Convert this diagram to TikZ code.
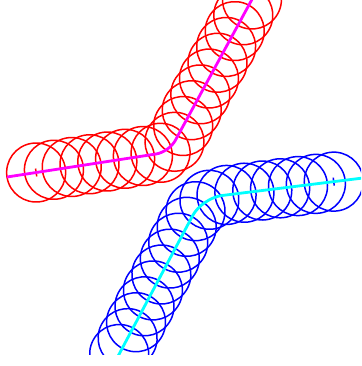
\documentclass[tikz,border=0pt]{standalone}
\usetikzlibrary{decorations.markings}
\definecolor{coilred}{RGB}{255,0,0}
\definecolor{coilblue}{RGB}{0,0,255}
\definecolor{axismag}{RGB}{255,0,255}
\definecolor{axiscyan}{RGB}{0,255,255}

\begin{document}
\begin{tikzpicture}[
    x=1pt, y=-1pt,
    coilline/.style={line width=1.5pt},
    mline/.style={axismag, line width=2.8pt, rounded corners=13pt},
    cline/.style={axiscyan, line width=2.8pt, rounded corners=20pt},
    redcoil/.style={preaction={decorate}, decoration={markings,
        mark=at position \coilr pt with {\draw[coilred, coilline] (0,-4pt) -- (0,4pt);},
        mark=between positions \coilr pt and 1 step \coilstep pt with
            {\draw[coilred, coilline] (0,0) circle (\coilr pt);}}},
    bluecoil/.style={preaction={decorate}, decoration={markings,
        mark=at position \coilr pt with {\draw[coilblue, coilline] (0,-4pt) -- (0,4pt);},
        mark=between positions \coilr pt and 1 step \coilstep pt with
            {\draw[coilblue, coilline] (0,0) circle (\coilr pt);}}},
]

% Sizes (pixels of the frame)
\pgfmathsetmacro{\coilr}{29.5}
\pgfmathsetmacro{\coilstep}{18}

\useasboundingbox (0,0) rectangle (361,366);
\clip (0,0) rectangle (361,354);

% ===== AXIS POINTS =====
\coordinate (rA) at (7,177);
\coordinate (rB) at (169,152);
\coordinate (rC) at (256,-8);
\coordinate (bA) at (363,178);
\coordinate (bB) at (202,198);
\coordinate (bC) at (116,360);

% ===== RED COIL =====
\draw[mline, redcoil] (rA) -- (rB) -- (rC);

% ===== BLUE COIL =====
\draw[cline, bluecoil] (bA) -- (bB) -- (bC);

\end{tikzpicture}
\end{document}
